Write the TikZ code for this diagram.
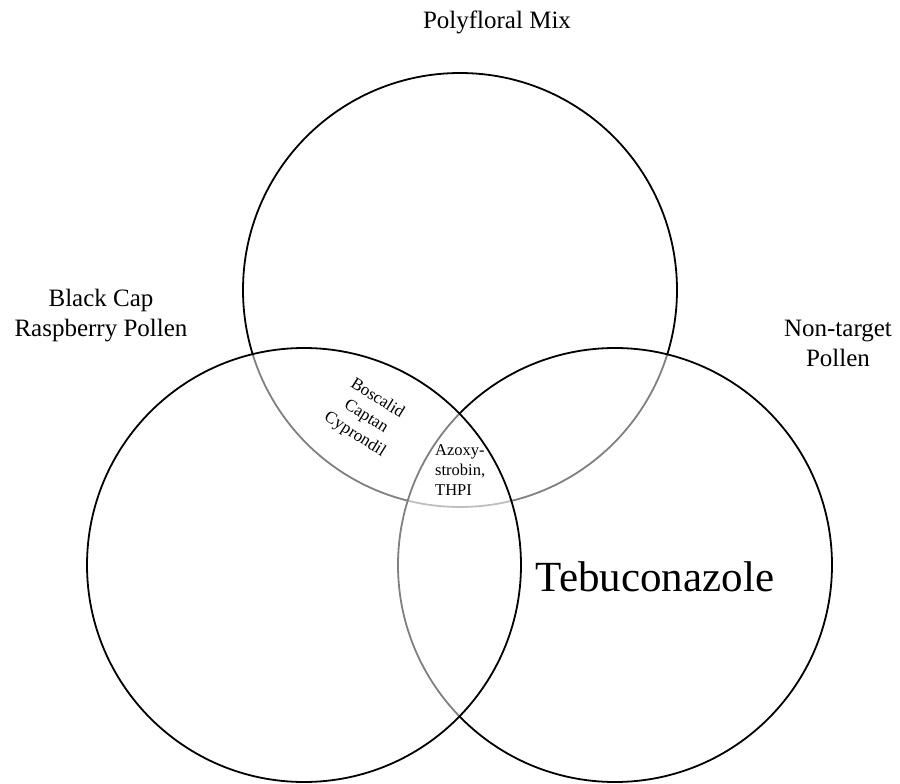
\documentclass[tikz,border=0pt]{standalone}
\usepackage{fontspec}
\setmainfont{Liberation Serif}
\begin{document}
\begin{tikzpicture}[x=1pt,y=-1pt,
  venn/.style={circle, draw=black, line width=1.8pt, fill=white, fill opacity=0.5, inner sep=0pt, minimum size=434pt},
  lab/.style={font=\fontsize{25}{30}\selectfont, align=center, inner sep=0pt, text=black},
  small/.style={font=\fontsize{17}{21}\selectfont, align=center, inner sep=0pt, text=black},
  azo/.style={font=\fontsize{16.5}{20}\selectfont, align=left, inner sep=0pt, text=black},
  big/.style={font=\fontsize{43}{50}\selectfont, inner sep=0pt, text=black}]
\useasboundingbox (0,0) rectangle (900,784);
\node[venn] (top) at (460,290) {};
\node[venn] (right) at (615,565) {};
\node[venn] (left) at (304,565) {};
\node[lab] (poly) at (497,22) {Polyfloral Mix};
\node[lab] (bcrp) at (101,316) {Black Cap\\Raspberry Pollen};
\node[lab] (nont) at (838,343) {Non-target\\Pollen};
\node[small, rotate=-32] (bcc) at (366,417) {Boscalid\\Captan\\Cyprondil};
\node[azo, anchor=north west] (azox) at (435,444) {Azoxy-\\strobin,\\THPI};
\node[big] (teb) at (655,577) {Tebuconazole};
\end{tikzpicture}
\end{document}
